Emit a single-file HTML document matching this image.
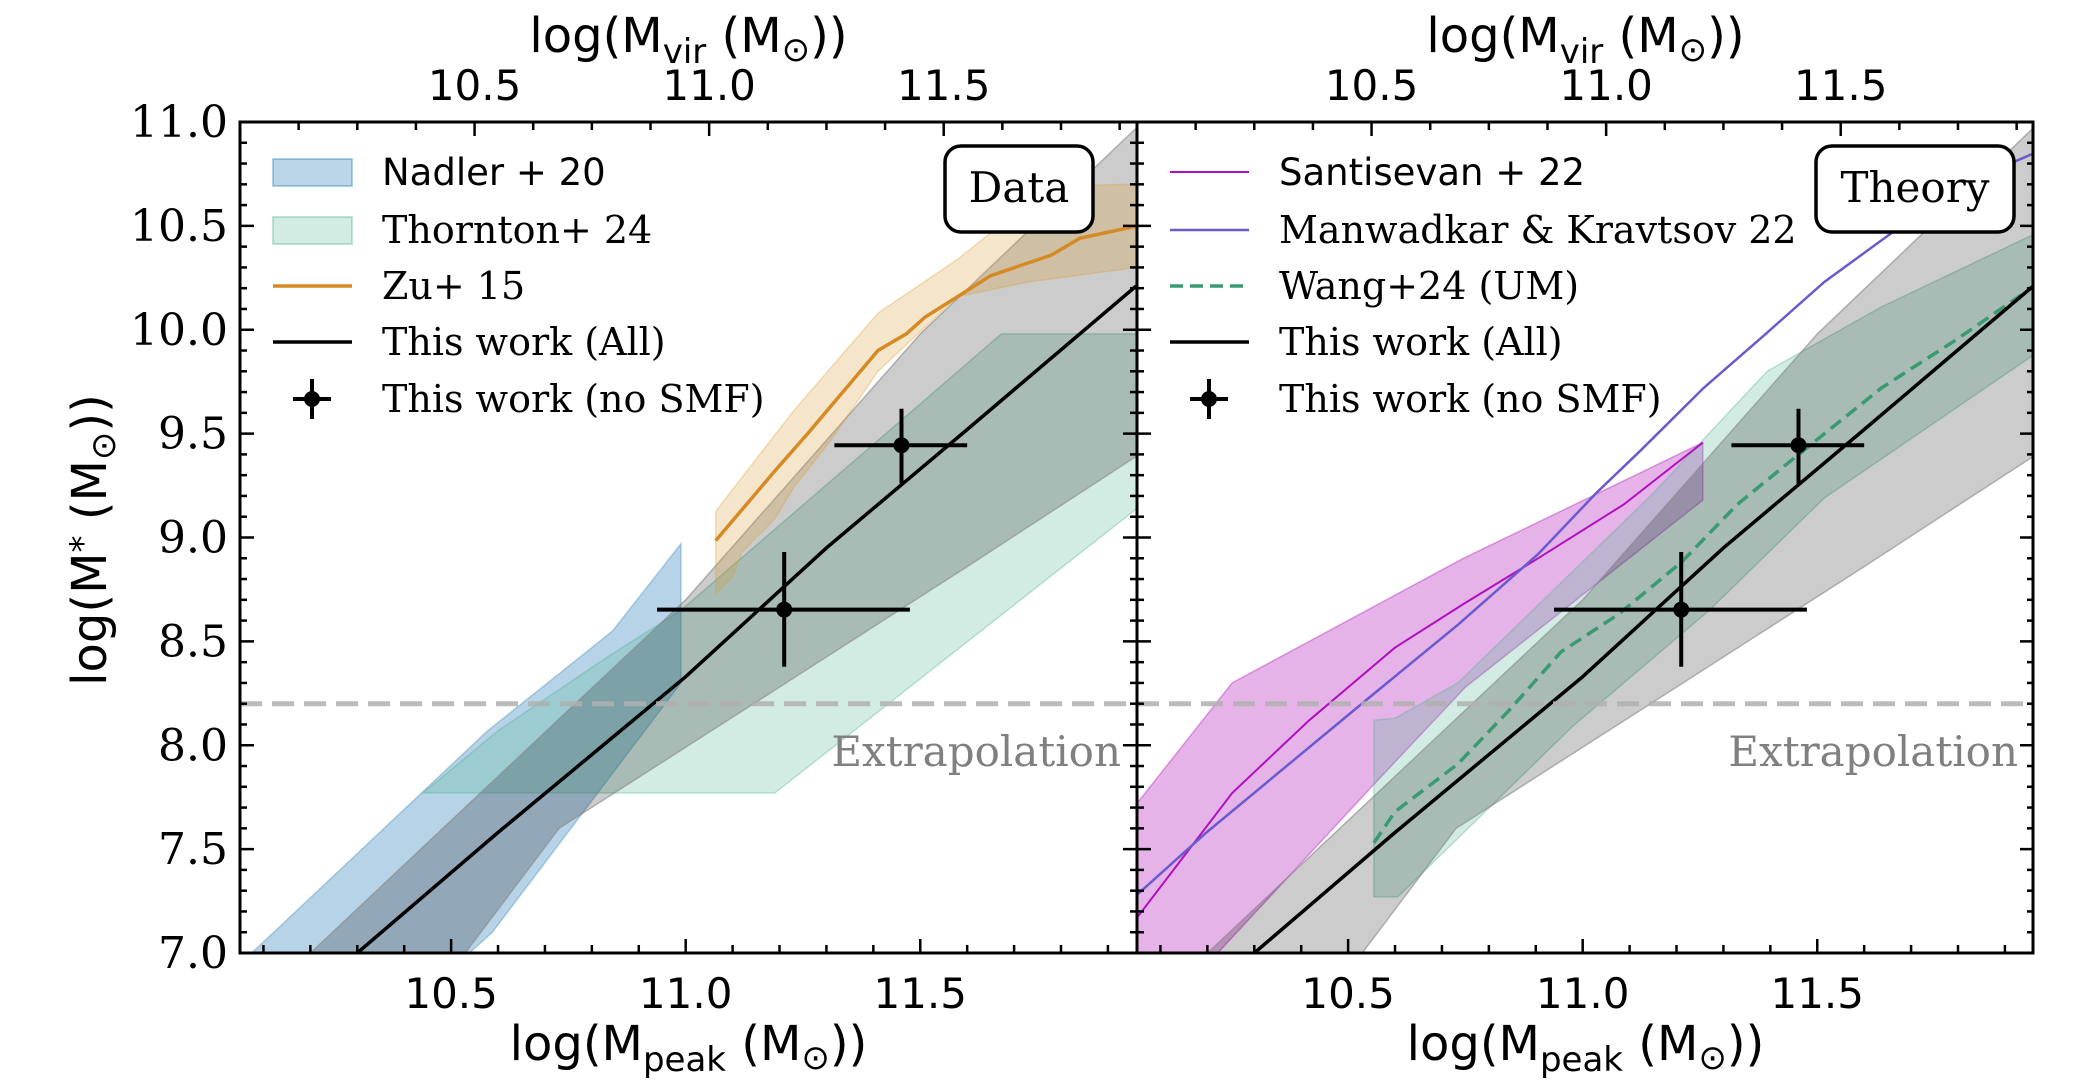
<!DOCTYPE html>
<html><head><meta charset="utf-8"><style>
html,body{margin:0;padding:0;background:#fff;}
svg{display:block;}
.serif{font-family:"DejaVu Serif","Liberation Serif",serif;}
.sans{font-family:"DejaVu Sans","Liberation Sans",sans-serif;}
</style></head><body>
<svg id="chart" width="2078" height="1084" viewBox="0 0 2078 1084" xmlns="http://www.w3.org/2000/svg">
<defs>
<clipPath id="clipL"><rect x="240" y="122" width="897" height="831"/></clipPath>
<clipPath id="clipR"><rect x="1137" y="122" width="896" height="831"/></clipPath>
</defs>
<g id="panelL"></g>
<g id="panelR"></g>
<g id="axes"></g>
</svg>
<script>
// ---- data arrays ----
const xTicks = [10.5, 11.0, 11.5];
const xTickLabels = ["10.5", "11.0", "11.5"];
const yTicks = [7.0, 7.5, 8.0, 8.5, 9.0, 9.5, 10.0, 10.5, 11.0];
const yTickLabels = ["7.0","7.5","8.0","8.5","9.0","9.5","10.0","10.5","11.0"];
const virTicks = [10.5, 11.0, 11.5];
const virTickLabels = ["10.5","11.0","11.5"];
const virOffset = 0.05;
const extrapY = 8.2;

const workX = [10.3, 10.6, 11.0, 11.3, 11.6, 11.96];
const workY = [7.0, 7.58, 8.33, 8.95, 9.52, 10.21];
const workUpX = [10.2, 10.6, 11.0, 11.5, 11.96];
const workUpY = [7.0, 7.85, 8.7, 9.98, 10.97];
const workLoX = [10.53, 10.73, 11.2, 11.6, 11.96];
const workLoY = [7.0, 7.6, 8.28, 8.86, 9.39];

const ptX = [11.21, 11.46];
const ptY = [8.653, 9.444];
const ptXlo = [10.939, 11.317];
const ptXhi = [11.478, 11.60];
const ptYlo = [8.378, 9.26];
const ptYhi = [8.93, 9.62];

const nadUpX = [10.075, 10.576, 10.844, 10.99];
const nadUpY = [7.0, 8.066, 8.55, 8.97];
const nadLoX = [10.539, 10.588, 10.99];
const nadLoY = [7.0, 7.10, 8.30];

const thoUpX = [10.44, 10.6, 10.83, 10.99, 11.673, 11.962];
const thoUpY = [7.77, 8.07, 8.42, 8.65, 9.98, 9.98];
const thoLoX = [10.44, 11.19, 11.962];
const thoLoY = [7.77, 7.77, 9.14];

const zuX = [11.064, 11.19, 11.26, 11.29, 11.41, 11.47, 11.51, 11.58, 11.65, 11.78, 11.84, 11.962];
const zuY = [8.985, 9.32, 9.50, 9.58, 9.90, 9.98, 10.06, 10.16, 10.26, 10.36, 10.44, 10.50];
const zuUpX = [11.064, 11.12, 11.23, 11.41, 11.58, 11.68, 11.73, 11.962];
const zuUpY = [9.125, 9.29, 9.61, 10.08, 10.34, 10.52, 10.69, 10.70];
const zuLoX = [11.064, 11.10, 11.12, 11.19, 11.23, 11.31, 11.41, 11.58, 11.73, 11.962];
const zuLoY = [8.73, 8.81, 8.93, 9.09, 9.24, 9.47, 9.80, 10.16, 10.23, 10.30];

const sanUpX = [10.05, 10.253, 10.746, 11.256];
const sanUpY = [7.72, 8.30, 8.90, 9.457];
const sanLoX = [10.05, 10.222, 10.55, 10.75, 11.256];
const sanLoY = [7.0, 7.0, 7.8, 8.28, 9.18];
const sanX = [10.05, 10.253, 10.417, 10.6, 10.746, 10.905, 11.088, 11.256];
const sanY = [7.17, 7.77, 8.12, 8.47, 8.68, 8.90, 9.16, 9.457];

const manX = [10.05, 10.198, 10.54, 10.734, 10.905, 11.027, 11.124, 11.258, 11.39, 11.515, 11.673, 11.83, 11.962];
const manY = [7.28, 7.58, 8.22, 8.58, 8.92, 9.21, 9.42, 9.72, 9.98, 10.23, 10.49, 10.72, 10.85];

const wangUpX = [10.555, 10.6, 10.734, 11.149, 11.393, 11.637, 11.962];
const wangUpY = [8.12, 8.13, 8.30, 9.21, 9.80, 10.11, 10.46];
const wangLoX = [10.555, 10.606, 10.978, 11.27, 11.515, 11.962];
const wangLoY = [7.27, 7.27, 8.09, 8.65, 9.19, 9.88];
const wangX = [10.555, 10.6, 10.734, 10.844, 10.954, 11.076, 11.21, 11.33, 11.455, 11.637, 11.795, 11.962];
const wangY = [7.53, 7.68, 7.91, 8.17, 8.45, 8.63, 8.88, 9.16, 9.39, 9.72, 9.95, 10.21];

// ---- axis functions ----
const XMIN = 10.05, XMAX = 11.962, YMIN = 7.0, YMAX = 11.0;
const PW = 897, TOP = 122, BOT = 953;
function sx(v, off) { return off + (v - XMIN) / (XMAX - XMIN) * PW; }
function sy(v) { return BOT - (v - YMIN) / (YMAX - YMIN) * (BOT - TOP); }
const NS = "http://www.w3.org/2000/svg";
function mk(tag, attrs, parent) {
  const e = document.createElementNS(NS, tag);
  for (const k in attrs) e.setAttribute(k, attrs[k]);
  parent.appendChild(e);
  return e;
}
function linePts(xa, ya, off) { return xa.map((x, i) => sx(x, off).toFixed(1) + "," + sy(ya[i]).toFixed(1)).join(" "); }
function bandPts(ux, uy, lx, ly, off) {
  const a = ux.map((x, i) => sx(x, off).toFixed(1) + "," + sy(uy[i]).toFixed(1));
  const b = lx.map((x, i) => sx(x, off).toFixed(1) + "," + sy(ly[i]).toFixed(1)).reverse();
  return a.concat(b).join(" ");
}

function drawPanel(g, off, clip, which) {
  const c = mk("g", {"clip-path": "url(#" + clip + ")"}, g);
  let e;
  if (which === "L") {
    e = mk("polygon", {points: bandPts(nadUpX, nadUpY, nadLoX, nadLoY, off), fill: "#1f77b4", "fill-opacity": 0.32, stroke: "#1f77b4", "stroke-opacity": 0.3, "stroke-width": 1.5}, c);
    
    
    e = mk("polygon", {points: bandPts(thoUpX, thoUpY, thoLoX, thoLoY, off), fill: "#4cb391", "fill-opacity": 0.25, stroke: "#4cb391", "stroke-opacity": 0.35, "stroke-width": 1.5}, c);
    
    
  } else {
    e = mk("polygon", {points: bandPts(sanUpX, sanUpY, sanLoX, sanLoY, off), fill: "#c040c8", "fill-opacity": 0.4, stroke: "#c040c8", "stroke-opacity": 0.5, "stroke-width": 1.5}, c);
    
    
    e = mk("polygon", {points: bandPts(wangUpX, wangUpY, wangLoX, wangLoY, off), fill: "#4cb391", "fill-opacity": 0.25, stroke: "#4cb391", "stroke-opacity": 0.35, "stroke-width": 1.5}, c);
    
    
  }
  e = mk("polygon", {points: bandPts(workUpX, workUpY, workLoX, workLoY, off), fill: "#000", "fill-opacity": 0.2, stroke: "#888", "stroke-opacity": 0.6, "stroke-width": 1.5}, c);
  
  
  if (which === "L") {
    e = mk("polygon", {points: bandPts(zuUpX, zuUpY, zuLoX, zuLoY, off), fill: "#d99a30", "fill-opacity": 0.25, stroke: "#d99a30", "stroke-opacity": 0.3, "stroke-width": 1.5}, c);
    
    
    e = mk("polyline", {points: linePts(zuX, zuY, off), fill: "none", stroke: "#d68a24", "stroke-width": 3.5}, c);
    
    
  } else {
    e = mk("polyline", {points: linePts(sanX, sanY, off), fill: "none", stroke: "#b010c0", "stroke-width": 2}, c);
    
    
    e = mk("polyline", {points: linePts(manX, manY, off), fill: "none", stroke: "#6a5acd", "stroke-width": 2.5}, c);
    
    
    e = mk("polyline", {points: linePts(wangX, wangY, off), fill: "none", stroke: "#3a9a72", "stroke-width": 3.5, "stroke-dasharray": "13,7"}, c);
    
    
  }
  e = mk("polyline", {points: linePts(workX, workY, off), fill: "none", stroke: "#000", "stroke-width": 3.5}, c);
  
  
  e = mk("line", {x1: off, x2: off + PW, y1: sy(extrapY), y2: sy(extrapY), stroke: "#b0b0b0", "stroke-opacity": 0.85, "stroke-width": 5, "stroke-dasharray": "22,10"}, c);
  
  
  for (let i = 0; i < ptX.length; i++) {
    const pg = mk("g", {}, c);
    
    
    mk("line", {x1: sx(ptXlo[i], off), x2: sx(ptXhi[i], off), y1: sy(ptY[i]), y2: sy(ptY[i]), stroke: "#000", "stroke-width": 4}, pg);
    mk("line", {x1: sx(ptX[i], off), x2: sx(ptX[i], off), y1: sy(ptYlo[i]), y2: sy(ptYhi[i]), stroke: "#000", "stroke-width": 4}, pg);
    mk("circle", {cx: sx(ptX[i], off), cy: sy(ptY[i]), r: 8, fill: "#000"}, pg);
  }
  e = mk("text", {x: off + 881, y: 766, "text-anchor": "end", class: "serif", "font-size": 42, fill: "#808080"}, g);
  e.textContent = "Extrapolation";
  
  
  const bx = which === "L" ? 945 : 1816, bw = which === "L" ? 148 : 198;
  const bg = mk("g", {}, g);
  
  
  mk("rect", {x: bx, y: 146, width: bw, height: 86, rx: 16, fill: "#fff", stroke: "#000", "stroke-width": 3.5}, bg);
  const bt = mk("text", {x: bx + bw / 2, y: 202, "text-anchor": "middle", class: "serif", "font-size": 42}, bg);
  bt.textContent = which === "L" ? "Data" : "Theory";
  const rows = [172, 230, 286, 342, 399];
  const lg = mk("g", {}, g);
  
  
  const hx = off + 33, tx = off + 142;
  let labels, sans;
  if (which === "L") {
    labels = ["Nadler + 20", "Thornton+ 24", "Zu+ 15", "This work (All)", "This work (no SMF)"];
    sans = [true, false, false, false, false];
    mk("rect", {x: hx, y: rows[0] - 13, width: 79, height: 27, fill: "#1f77b4", "fill-opacity": 0.3, stroke: "#1f77b4", "stroke-opacity": 0.35, "stroke-width": 2}, lg);
    mk("rect", {x: hx, y: rows[1] - 13, width: 79, height: 27, fill: "#4cb391", "fill-opacity": 0.25, stroke: "#4cb391", "stroke-opacity": 0.35, "stroke-width": 2}, lg);
    mk("line", {x1: hx, x2: hx + 79, y1: rows[2], y2: rows[2], stroke: "#d68a24", "stroke-width": 3.5}, lg);
  } else {
    labels = ["Santisevan + 22", "Manwadkar & Kravtsov 22", "Wang+24 (UM)", "This work (All)", "This work (no SMF)"];
    sans = [true, false, false, false, false];
    mk("line", {x1: hx, x2: hx + 79, y1: rows[0], y2: rows[0], stroke: "#b010c0", "stroke-width": 2}, lg);
    mk("line", {x1: hx, x2: hx + 79, y1: rows[1], y2: rows[1], stroke: "#6a5acd", "stroke-width": 2.5}, lg);
    mk("line", {x1: hx, x2: hx + 79, y1: rows[2], y2: rows[2], stroke: "#3a9a72", "stroke-width": 3.5, "stroke-dasharray": "13,7"}, lg);
  }
  mk("line", {x1: hx, x2: hx + 79, y1: rows[3], y2: rows[3], stroke: "#000", "stroke-width": 3.5}, lg);
  mk("line", {x1: hx + 20, x2: hx + 58, y1: rows[4], y2: rows[4], stroke: "#000", "stroke-width": 4}, lg);
  mk("line", {x1: hx + 39, x2: hx + 39, y1: rows[4] - 20, y2: rows[4] + 20, stroke: "#000", "stroke-width": 4}, lg);
  mk("circle", {cx: hx + 39, cy: rows[4], r: 8, fill: "#000"}, lg);
  labels.forEach((t, i) => {
    const te = mk("text", {x: tx, y: rows[i] + 13, class: sans[i] ? "sans" : "serif", "font-size": sans[i] ? 37 : 38}, lg);
    te.textContent = t;
    
    
  });
}
drawPanel(document.getElementById("panelL"), 240, "clipL", "L");
drawPanel(document.getElementById("panelR"), 1137, "clipR", "R");

// ---- axes ----
const ax = document.getElementById("axes");
function tick(x1, y1, x2, y2) { mk("line", {x1, y1, x2, y2, stroke: "#000", "stroke-width": 2.5}, ax); }
[240, 1137].forEach((off, pi) => {
  for (let v = 10.1; v < XMAX; v += 0.1) {
    const X = sx(v, off); const maj = Math.abs(v * 2 - Math.round(v * 2)) < 0.01;
    tick(X, BOT, X, BOT - (maj ? 14 : 8));
  }
  for (let m = 10.0; m < 12; m += 0.125) {
    const X = sx(m + virOffset, off); if (X < off + 2 || X > off + PW - 2) continue;
    const maj = Math.abs(m * 2 - Math.round(m * 2)) < 0.01;
    tick(X, TOP, X, TOP + (maj ? 14 : 8));
  }
  for (let v = 7.1; v < 11; v += 0.1) {
    const Y = sy(v); const maj = Math.abs(v * 2 - Math.round(v * 2)) < 0.01;
    tick(off, Y, off + (maj ? 14 : 7), Y);
    tick(off + PW, Y, off + PW - (maj ? 14 : 7), Y);
  }
  xTicks.forEach((v, i) => {
    const t = mk("text", {x: sx(v, off), y: 1008, "text-anchor": "middle", class: "sans", "font-size": 42}, ax);
    t.textContent = xTickLabels[i];
    
    
  });
  virTicks.forEach((v, i) => {
    const t = mk("text", {x: sx(v + virOffset, off), y: 100, "text-anchor": "middle", class: "sans", "font-size": 42}, ax);
    t.textContent = virTickLabels[i];
    
    
  });
  const cx = off + PW / 2;
  let t = mk("text", {x: cx, y: 1060, "text-anchor": "middle", class: "sans", "font-size": 48}, ax);
  t.innerHTML = 'log(M<tspan font-size="34" dy="11">peak</tspan><tspan dy="-11"> (M</tspan><tspan font-size="34" dy="9">⊙</tspan><tspan dy="-9">))</tspan>';
  
  
  t = mk("text", {x: cx, y: 52, "text-anchor": "middle", class: "sans", "font-size": 48}, ax);
  t.innerHTML = 'log(M<tspan font-size="34" dy="11">vir</tspan><tspan dy="-11"> (M</tspan><tspan font-size="34" dy="9">⊙</tspan><tspan dy="-9">))</tspan>';
  
  
});
yTicks.forEach((v, i) => {
  const t = mk("text", {x: 228, y: sy(v) + 15, "text-anchor": "end", class: "serif", "font-size": 44}, ax);
  t.textContent = yTickLabels[i];
  
  
});
let yl = mk("text", {x: 0, y: 0, "text-anchor": "middle", class: "sans", "font-size": 48, transform: "translate(106,540) rotate(-90)"}, ax);
yl.innerHTML = 'log(M<tspan font-size="34" dy="-12">*</tspan><tspan dy="12">  (M</tspan><tspan font-size="34" dy="9">⊙</tspan><tspan dy="-9">))</tspan>';


mk("rect", {x: 240, y: TOP, width: PW, height: BOT - TOP, fill: "none", stroke: "#000", "stroke-width": 3}, ax);
mk("rect", {x: 1137, y: TOP, width: PW - 1, height: BOT - TOP, fill: "none", stroke: "#000", "stroke-width": 3}, ax);
</script>
</body></html>
